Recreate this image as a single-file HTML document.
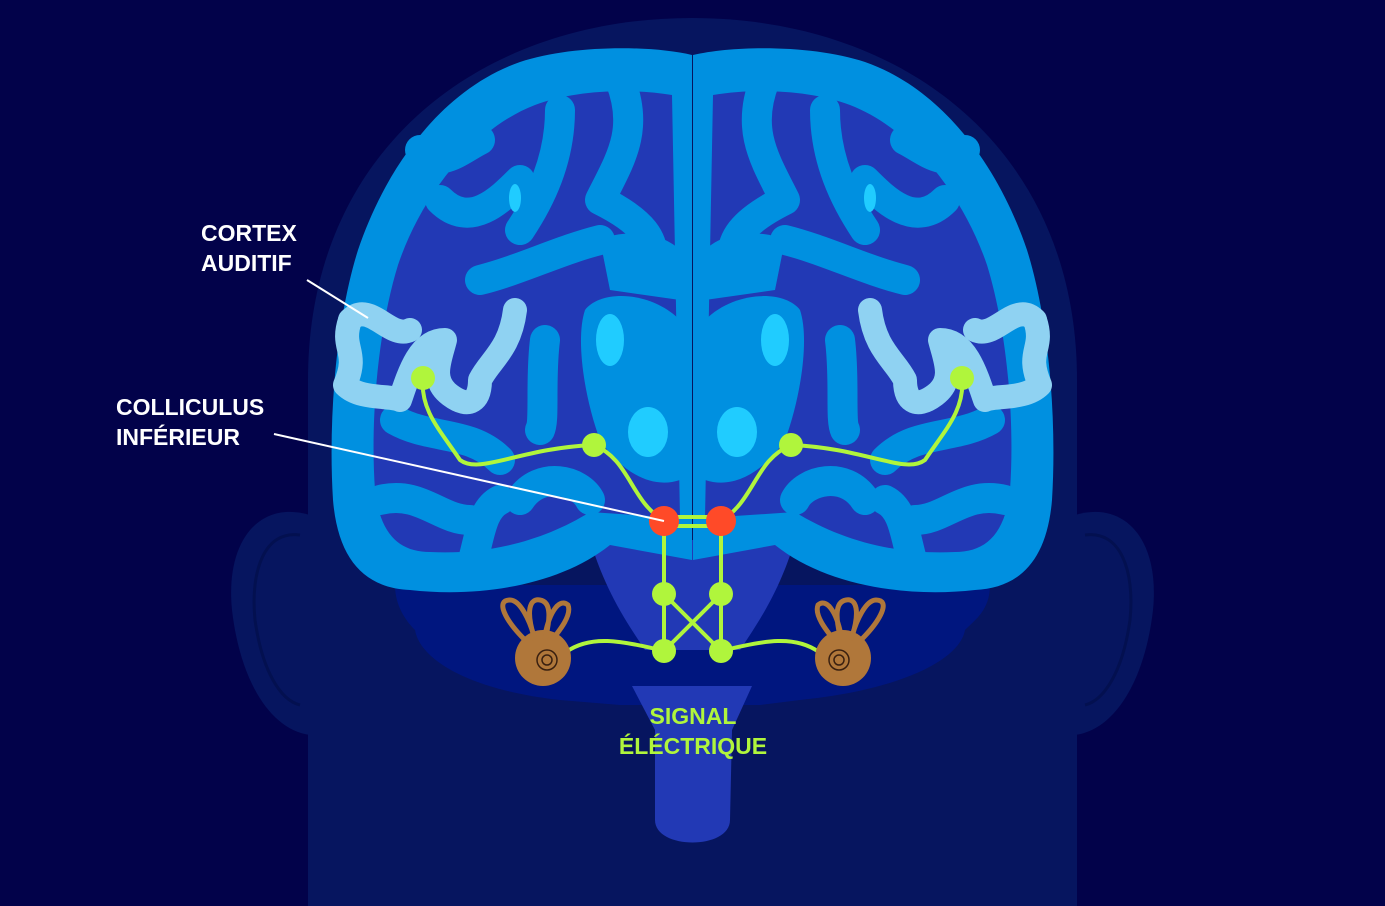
<!DOCTYPE html>
<html><head><meta charset="utf-8"><style>
html,body{margin:0;padding:0;background:#02024a;}
svg{display:block}
text{font-family:"Liberation Sans",sans-serif;font-weight:bold;}
</style></head><body>
<svg width="1385" height="906" viewBox="0 0 1385 906" xmlns="http://www.w3.org/2000/svg">
<rect width="1385" height="906" fill="#02024a"/>
<!-- ears -->
<path d="M310,515 C260,500 225,540 232,610 C240,680 270,730 310,735 Z" fill="#06155f"/>
<path d="M1075,515 C1125,500 1160,540 1153,610 C1145,680 1115,730 1075,735 Z" fill="#06155f"/>
<path d="M300,535 C265,530 250,570 255,620 C262,670 280,700 300,705" fill="none" stroke="#031050" stroke-width="3"/>
<path d="M1085,535 C1120,530 1135,570 1130,620 C1123,670 1105,700 1085,705" fill="none" stroke="#031050" stroke-width="3"/>
<!-- head -->
<path d="M308,906 L308,380 C308,150 480,18 692,18 C905,18 1077,150 1077,380 L1077,906 Z" fill="#06155f"/>
<!-- lower brain region -->
<path d="M395,585 L990,585 C990,610 975,620 965,630 C960,660 900,690 800,700 L760,705 L620,705 L560,700 C470,690 420,660 415,630 C405,620 395,605 395,585 Z" fill="#00167f"/>
<!-- spinal cord -->
<path d="M632,686 L752,686 L732,730 L730,820 C730,850 655,850 655,820 L655,730 Z" fill="#2239b5"/>
<!-- brainstem -->
<path d="M590,540 L795,540 C780,590 760,620 740,650 L645,650 C625,620 605,590 590,540 Z" fill="#2239b5"/>
<!-- brain outer -->
<g fill="#0090e0">
<path d="M692,55 C650,45 570,45 520,62 C440,90 385,170 358,250 C336,320 328,420 333,500 C338,560 365,588 410,590 C480,598 560,585 610,545 L692,560 Z"/>
<path d="M693,55 C735,45 815,45 865,62 C945,90 1000,170 1027,250 C1049,320 1057,420 1052,500 C1047,560 1020,588 975,590 C905,598 825,585 775,545 L693,560 Z"/>
</g>
<!-- inner dark -->
<g fill="#2239b5">
<path d="M672,95 C630,88 575,90 535,105 C470,130 420,200 398,265 C378,330 370,420 375,490 C380,535 400,552 430,552 C490,555 545,540 590,512 L680,518 Z"/>
<path d="M713,95 C755,88 810,90 850,105 C915,130 965,200 987,265 C1007,330 1015,420 1010,490 C1005,535 985,552 955,552 C895,555 840,540 795,512 L705,518 Z"/>
</g>
<!-- gyri -->
<g fill="none" stroke="#0090e0" stroke-width="30" stroke-linecap="round" stroke-linejoin="round">
<path d="M440,200 C470,230 500,200 520,180"/>
<path d="M560,110 C560,160 540,200 520,230"/>
<path d="M620,80 C640,130 620,160 600,200 C640,220 660,240 650,270"/>
<path d="M765,80 C745,130 765,160 785,200 C745,220 725,240 735,270"/>
<path d="M945,200 C915,230 885,200 865,180"/>
<path d="M825,110 C825,160 845,200 865,230"/>
<path d="M395,420 C430,440 470,430 500,460"/>
<path d="M990,420 C955,440 915,430 885,460"/>
<path d="M380,500 C420,490 440,520 470,520"/>
<path d="M1005,500 C965,490 945,520 915,520"/>
<path d="M470,570 C480,540 480,510 500,500"/>
<path d="M915,570 C905,540 905,510 885,500"/>
<path d="M520,500 C540,470 580,480 590,500"/>
<path d="M865,500 C845,470 805,480 795,500"/>
<path d="M545,340 C540,380 545,420 540,430"/>
<path d="M840,340 C845,380 840,420 845,430"/>
<path d="M480,280 C520,270 560,250 600,240"/>
<path d="M905,280 C865,270 825,250 785,240"/>
<path d="M420,150 C440,170 460,150 480,140"/>
<path d="M965,150 C945,170 925,150 905,140"/>
</g>
<!-- central deep -->
<g fill="#0090e0">
<path d="M585,310 C600,290 650,290 680,320 L680,480 C650,490 620,470 600,440 C585,400 575,340 585,310 Z"/>
<path d="M800,310 C785,290 735,290 705,320 L705,480 C735,490 765,470 785,440 C800,400 810,340 800,310 Z"/>
<path d="M600,240 C620,230 660,230 680,250 L680,300 L610,290 Z"/>
<path d="M785,240 C765,230 725,230 705,250 L705,300 L775,290 Z"/>
</g>
<g fill="#20ccff">
<ellipse cx="610" cy="340" rx="14" ry="26"/>
<ellipse cx="775" cy="340" rx="14" ry="26"/>
<ellipse cx="648" cy="432" rx="20" ry="25"/>
<ellipse cx="737" cy="432" rx="20" ry="25"/>
<ellipse cx="515" cy="198" rx="6" ry="14"/>
<ellipse cx="870" cy="198" rx="6" ry="14"/>
</g>
<!-- auditory cortex -->
<g fill="none" stroke="#8fd2f2" stroke-width="24" stroke-linecap="round" stroke-linejoin="round">
<path d="M350,320 C340,350 360,350 345,385 C360,400 390,395 400,400 C410,370 420,340 445,340 C440,360 430,380 450,395 C470,410 480,400 480,380 C490,360 510,350 515,310"/>
<path d="M350,320 C370,300 390,340 410,330"/>
</g>
<g fill="none" stroke="#8fd2f2" stroke-width="24" stroke-linecap="round" stroke-linejoin="round">
<path d="M1035,320 C1045,350 1025,350 1040,385 C1025,400 995,395 985,400 C975,370 965,340 940,340 C945,360 955,380 935,395 C915,410 905,400 905,380 C895,360 875,350 870,310"/>
<path d="M1035,320 C1015,300 995,340 975,330"/>
</g>
<!-- green paths -->
<g fill="none" stroke="#b0f53c" stroke-width="4">
<path d="M423,378 C420,410 440,430 460,460 C480,475 520,448 594,445 C630,460 630,500 664,521"/>
<path d="M962,378 C965,410 945,430 925,460 C905,475 865,448 791,445 C755,460 755,500 721,521"/>
<path d="M664,521 L664,651 M721,521 L721,651 M664,594 L721,651 M721,594 L664,651"/>
<path d="M664,517 L721,517 M664,526 L721,526"/>
<path d="M566,652 C590,635 620,640 664,651 M819,652 C795,635 765,640 721,651"/>
</g>
<g fill="#b0f53c">
<circle cx="423" cy="378" r="12"/><circle cx="962" cy="378" r="12"/>
<circle cx="594" cy="445" r="12"/><circle cx="791" cy="445" r="12"/>
<circle cx="664" cy="594" r="12"/><circle cx="721" cy="594" r="12"/>
<circle cx="664" cy="651" r="12"/><circle cx="721" cy="651" r="12"/>
</g>
<circle cx="664" cy="521" r="15" fill="#ff4a28"/><circle cx="721" cy="521" r="15" fill="#ff4a28"/>
<!-- cochleas -->
<g fill="#b0773a">
<circle cx="543" cy="658" r="28"/><circle cx="843" cy="658" r="28"/>
</g>
<g fill="none" stroke="#b0773a" stroke-width="5">
<path d="M525,640 C505,620 495,600 510,600 C520,600 530,620 535,640 M535,640 C525,610 530,598 540,600 C552,602 550,620 545,640 M545,635 C550,610 560,598 568,605 C572,615 560,630 552,640"/>
<path d="M861,640 C881,620 891,600 876,600 C866,600 856,620 851,640 M851,640 C861,610 856,598 846,600 C834,602 836,620 841,640 M841,635 C836,610 826,598 818,605 C814,615 826,630 834,640"/>
</g>
<g fill="none" stroke="#3a2010" stroke-width="1.5">
<circle cx="547" cy="660" r="10"/><circle cx="547" cy="660" r="5"/>
<circle cx="839" cy="660" r="10"/><circle cx="839" cy="660" r="5"/>
</g>
<!-- leader lines -->
<g stroke="#ffffff" stroke-width="2">
<line x1="307" y1="280" x2="368" y2="318"/>
<line x1="274" y1="434" x2="664" y2="521"/>
</g>
<g fill="#ffffff" font-size="23">
<text x="201" y="241">CORTEX</text><text x="201" y="271">AUDITIF</text>
<text x="116" y="415">COLLICULUS</text><text x="116" y="445">INFÉRIEUR</text>
</g>
<g fill="#b0f53c" font-size="23" text-anchor="middle">
<text x="693" y="724">SIGNAL</text><text x="693" y="754">ÉLÉCTRIQUE</text>
</g>
</svg>
</body></html>
